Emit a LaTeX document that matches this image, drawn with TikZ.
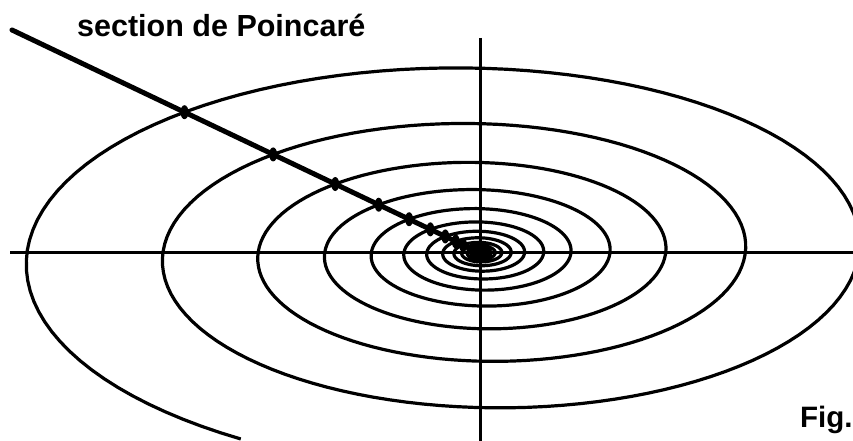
\documentclass[tikz,border=0pt]{standalone}
\usepackage{fontspec}
\setmainfont{Liberation Sans}
\usepackage{tikz}

\begin{document}
\begin{tikzpicture}[x=1pt,y=1pt,
  orbit/.style={line width=3.2pt,line join=round},
  axis/.style={line width=3pt},
  cut/.style={line width=5pt,line cap=round},
  crossing/.style={fill=black}]
\path[use as bounding box] (0,0) rectangle (853,441);
\coordinate (O) at (480,188);
\coordinate (xl) at (10,188);
\coordinate (xr) at (853,188);
\coordinate (yt) at (480,403);
\coordinate (yb) at (480,0);
\coordinate (s0) at (12,411);
\draw[axis] (xl) -- (xr);
\draw[axis] (yt) -- (yb);
\begin{scope}
\clip (0,0) rectangle (853,441);
\draw[orbit] plot[domain=-1.05:80,samples=1600,variable=\t]
  ({480+453*cos(deg(pi-\t))*exp(-0.0568*\t)},{188+202*sin(deg(pi-\t))*exp(-0.0568*\t)});
\end{scope}
\draw[cut] (s0) -- (O);
\foreach \n in {0,...,8}{
  \pgfmathsetmacro\tcut{0.8185+2*pi*\n}
  \fill[crossing] ({480+453*cos(deg(pi-\tcut))*exp(-0.0568*\tcut)},{188+202*sin(deg(pi-\tcut))*exp(-0.0568*\tcut)}) ellipse (4pt and 7pt);
}
\node[anchor=base west,font=\bfseries\fontsize{30.5}{36}\selectfont,inner sep=0pt] (title) at (77,404) {section de Poincaré};
\node[anchor=base west,font=\bfseries\fontsize{29.5}{36}\selectfont,inner sep=0pt] (figlabel) at (800,13) {Fig.};
\end{tikzpicture}
\end{document}
